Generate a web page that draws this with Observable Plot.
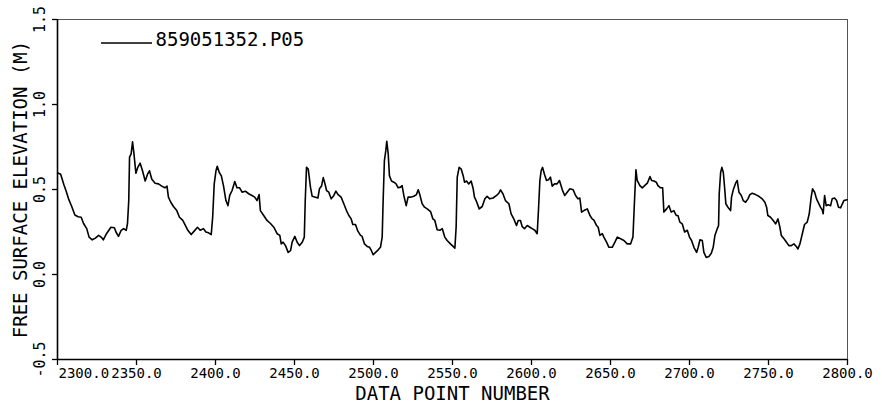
<!DOCTYPE html>
<html>
<head>
<meta charset="utf-8">
<script src="https://cdn.jsdelivr.net/npm/d3@7"></script>
<script src="https://cdn.jsdelivr.net/npm/@observablehq/plot@0.6"></script>
<style>
  html, body { margin: 0; padding: 0; background: #fff; }
</style>
</head>
<body>
<div id="chart"></div>
<script>
const seriesName = "859051352.P05";
const xLabel = "DATA POINT NUMBER";
const yLabel = "FREE SURFACE ELEVATION (M)";
const xTicks = [2300, 2350, 2400, 2450, 2500, 2550, 2600, 2650, 2700, 2750, 2800];
const yTicks = [-0.5, 0.0, 0.5, 1.0, 1.5];

const pointNumber = [
  2300.6, 2302, 2304, 2305.5, 2307, 2309, 2311, 2313, 2315, 2316.5, 2318.5, 2320, 2322, 2324, 2326, 2327.6, 2329, 2331, 2333.8, 2336,
  2337, 2338.6, 2340.3, 2341.8, 2343.5, 2344.3, 2345.1, 2345.6, 2346.6, 2347.5, 2348.4, 2349.6, 2350.8, 2352.3, 2353.8, 2355.5, 2357, 2358.2, 2359.7, 2361.8,
  2363.9, 2366, 2368, 2369.3, 2370.2, 2371.7, 2373.4, 2375.5, 2377.2, 2379.3, 2381, 2382.5, 2384.6, 2386.5, 2388.6, 2390.3, 2392.4, 2393.9, 2395.6, 2397.3,
  2398.2, 2399.2, 2400.3, 2401.1, 2402.4, 2403.7, 2405.1, 2406.6, 2407.9, 2409, 2410.5, 2412.2, 2413.6, 2415.3, 2416.8, 2418.9, 2421, 2423.1, 2424.8, 2426.3,
  2427.6, 2428.4, 2430.5, 2432.6, 2434.8, 2436.9, 2439, 2440.7, 2441.6, 2442.8, 2444.3, 2446, 2447.5, 2448.5, 2450.2, 2451.7, 2453.2, 2454.9, 2456.2, 2456.8,
  2457.6, 2458.7, 2460.1, 2461.2, 2463.3, 2464.8, 2465.8, 2467.1, 2468.2, 2469.2, 2470.3, 2471.7, 2473.2, 2474.9, 2476.2, 2477.6, 2479.5, 2481.2, 2482.9, 2484.4,
  2485.9, 2486.9, 2488.6, 2490.1, 2491.8, 2492.8, 2494.3, 2496, 2497.5, 2498.7, 2499.8, 2501.3, 2503, 2504.4, 2505.5, 2506.1, 2506.9, 2507.8, 2508.4, 2509.3,
  2510.1, 2511.4, 2512.9, 2514.3, 2515.6, 2517.1, 2518.1, 2519.2, 2520.7, 2521.9, 2523.4, 2525.5, 2527.2, 2528.3, 2529.3, 2530.8, 2532.3, 2534, 2536.1, 2537.6,
  2538.8, 2540.3, 2542, 2543.5, 2545.1, 2546.6, 2548.7, 2550.4, 2551.5, 2552.3, 2553, 2554.2, 2555.5, 2556.8, 2557.6, 2558.9, 2560.3, 2561.8, 2563.1, 2563.9,
  2565.2, 2566.9, 2568.8, 2570.5, 2571.9, 2573.6, 2575.7, 2577.9, 2579.3, 2580.4, 2581.9, 2583.5, 2585.7, 2587.1, 2588.8, 2590.5, 2591.6, 2593, 2594.1, 2595.6,
  2597.3, 2599, 2600.4, 2602.1, 2603.6, 2604.4, 2605.3, 2606.1, 2607, 2608.2, 2609.5, 2610.8, 2612, 2613.1, 2614.6, 2616.2, 2617.7, 2619.5, 2621, 2622.6,
  2624.3, 2626.4, 2627.9, 2629.4, 2630.6, 2631.7, 2633.2, 2635.3, 2637, 2638.4, 2639.5, 2641.2, 2642.2, 2643.3, 2644.8, 2645.8, 2647.5, 2649, 2651.1, 2652.8,
  2654.3, 2656.4, 2658.5, 2660.6, 2662.7, 2664.2, 2665.2, 2666.1, 2666.9, 2668.6, 2670.1, 2671.6, 2673.3, 2675, 2676, 2677.5, 2679, 2680, 2681.7, 2683,
  2683.8, 2685.5, 2687, 2688.4, 2690.1, 2691.6, 2692.7, 2693.9, 2695.4, 2696.9, 2698.6, 2700, 2701.3, 2702.8, 2704.5, 2705.5, 2706.6, 2708.1, 2709.1, 2710.6,
  2712.3, 2713.8, 2715, 2716.1, 2717.6, 2718.4, 2718.8, 2719.7, 2720.5, 2721.4, 2722.2, 2723, 2724.3, 2726, 2726.6, 2727.7, 2729.2, 2730.2, 2731.3, 2732.8,
  2734, 2735.5, 2737, 2738.2, 2739.7, 2741.8, 2743.9, 2746, 2747.7, 2748.8, 2749.6, 2751.3, 2753, 2754.5, 2756, 2757.2, 2758.1, 2759.8, 2761.4, 2762.9,
  2764.4, 2766.1, 2767.6, 2768.6, 2769.9, 2771.4, 2772.8, 2774.5, 2775.8, 2777, 2777.9, 2779.2, 2780.4, 2781.9, 2782.9, 2784, 2784.6, 2785.5, 2786.5, 2787.8,
  2789.3, 2790.3, 2791.8, 2793.1, 2794.3, 2795.6, 2797.7, 2799.8
];

const elevation = [
  0.596, 0.59, 0.53, 0.49, 0.445, 0.40, 0.35, 0.34, 0.337, 0.30, 0.27, 0.22, 0.204, 0.214, 0.23, 0.22, 0.204, 0.24, 0.278, 0.275,
  0.25, 0.224, 0.26, 0.27, 0.26, 0.30, 0.435, 0.69, 0.71, 0.78, 0.71, 0.596, 0.63, 0.655, 0.61, 0.55, 0.59, 0.61, 0.56, 0.537,
  0.533, 0.52, 0.51, 0.52, 0.455, 0.425, 0.40, 0.376, 0.337, 0.318, 0.288, 0.26, 0.235, 0.255, 0.278, 0.26, 0.27, 0.25, 0.245, 0.235,
  0.337, 0.533, 0.61, 0.637, 0.60, 0.58, 0.52, 0.435, 0.405, 0.465, 0.494, 0.547, 0.51, 0.51, 0.484, 0.49, 0.475, 0.465, 0.455, 0.435,
  0.47, 0.376, 0.347, 0.318, 0.30, 0.278, 0.24, 0.23, 0.18, 0.19, 0.17, 0.13, 0.14, 0.19, 0.224, 0.19, 0.17, 0.19, 0.22, 0.435,
  0.63, 0.62, 0.514, 0.46, 0.455, 0.45, 0.504, 0.52, 0.57, 0.537, 0.494, 0.484, 0.445, 0.465, 0.49, 0.47, 0.455, 0.416, 0.376, 0.347,
  0.327, 0.294, 0.294, 0.255, 0.23, 0.224, 0.18, 0.165, 0.16, 0.14, 0.116, 0.13, 0.145, 0.16, 0.22, 0.435, 0.67, 0.73, 0.784, 0.71,
  0.58, 0.55, 0.543, 0.533, 0.51, 0.514, 0.523, 0.465, 0.405, 0.455, 0.455, 0.46, 0.47, 0.498, 0.47, 0.416, 0.396, 0.386, 0.37, 0.327,
  0.318, 0.263, 0.26, 0.27, 0.22, 0.2, 0.18, 0.165, 0.155, 0.278, 0.573, 0.63, 0.62, 0.58, 0.543, 0.55, 0.533, 0.55, 0.504, 0.455,
  0.43, 0.386, 0.4, 0.445, 0.46, 0.445, 0.45, 0.465, 0.478, 0.498, 0.475, 0.435, 0.416, 0.357, 0.327, 0.288, 0.318, 0.318, 0.282, 0.27,
  0.288, 0.278, 0.27, 0.26, 0.24, 0.376, 0.553, 0.61, 0.63, 0.59, 0.553, 0.557, 0.573, 0.52, 0.533, 0.533, 0.553, 0.498, 0.465, 0.484,
  0.504, 0.498, 0.465, 0.445, 0.45, 0.367, 0.376, 0.386, 0.347, 0.327, 0.32, 0.288, 0.278, 0.23, 0.24, 0.22, 0.19, 0.16, 0.16, 0.19,
  0.22, 0.21, 0.2, 0.18, 0.18, 0.22, 0.435, 0.616, 0.553, 0.523, 0.51, 0.523, 0.537, 0.576, 0.553, 0.55, 0.543, 0.523, 0.51, 0.51,
  0.367, 0.386, 0.405, 0.367, 0.376, 0.347, 0.347, 0.308, 0.298, 0.25, 0.26, 0.22, 0.2, 0.16, 0.13, 0.16, 0.204, 0.2, 0.13, 0.1,
  0.106, 0.125, 0.16, 0.23, 0.27, 0.288, 0.475, 0.6, 0.63, 0.6, 0.514, 0.416, 0.396, 0.376, 0.455, 0.498, 0.537, 0.553, 0.484, 0.465,
  0.435, 0.425, 0.445, 0.47, 0.478, 0.47, 0.46, 0.445, 0.425, 0.396, 0.347, 0.337, 0.318, 0.298, 0.327, 0.278, 0.23, 0.21, 0.19, 0.17,
  0.17, 0.18, 0.165, 0.15, 0.18, 0.24, 0.294, 0.308, 0.357, 0.455, 0.504, 0.484, 0.445, 0.416, 0.396, 0.38, 0.357, 0.465, 0.405, 0.41,
  0.405, 0.445, 0.45, 0.435, 0.396, 0.392, 0.435, 0.44
];

const data = pointNumber.map((n, i) => ({n, v: elevation[i]}));
const font = "'DejaVu Sans Mono', monospace";

const legendLine = (index, scales, values, dim) => {
  const g = d3.create("svg:g");
  g.append("line")
    .attr("x1", dim.marginLeft + 44).attr("x2", dim.marginLeft + 95)
    .attr("y1", dim.marginTop + 24).attr("y2", dim.marginTop + 24)
    .attr("stroke", "black").attr("stroke-width", 1.3);
  return g.node();
};

const chart = Plot.plot({
  width: 882,
  height: 412,
  marginLeft: 57,
  marginRight: 35,
  marginTop: 19,
  marginBottom: 53,
  style: {fontFamily: font, background: "#fff", color: "#000"},
  x: {domain: [2300, 2800]},
  y: {domain: [-0.5, 1.5]},
  marks: [
    Plot.frame({stroke: "#555", strokeWidth: 1}),
    Plot.axisX({ticks: xTicks, tickSize: 6, tickPadding: 3, fontSize: 14, label: null,
      tickFormat: d => d === xTicks[0] ? "" : d.toFixed(1), strokeWidth: 1.3}),
    Plot.text([xTicks[0]], {x: d => d, frameAnchor: "bottom", text: d => d.toFixed(1),
      textAnchor: "start", lineAnchor: "top", dy: 9, dx: 1, fontSize: 14}),
    Plot.axisY({ticks: yTicks, tickSize: 5, tickFormat: () => "", label: null, strokeWidth: 1.3}),
    Plot.text(yTicks, {y: d => d, frameAnchor: "left", text: d => d.toFixed(1), rotate: -90,
      textAnchor: "middle", lineAnchor: "middle", dx: -17, fontSize: 15}),
    Plot.ruleX([2300], {stroke: "#000", strokeWidth: 1.6}),
    Plot.ruleY([-0.5], {stroke: "#000", strokeWidth: 1.6}),
    Plot.text([yLabel], {frameAnchor: "left", rotate: -90, dx: -37, textAnchor: "middle",
      lineAnchor: "middle", fontSize: 19}),
    Plot.text([xLabel], {frameAnchor: "bottom", dy: 34, lineAnchor: "middle", fontSize: 19}),
    Plot.line(data, {x: "n", y: "v", stroke: "#000", strokeWidth: 1.6}),
    legendLine,
    Plot.text([seriesName], {frameAnchor: "top-left", dx: 98, dy: 20, textAnchor: "start",
      lineAnchor: "middle", fontSize: 19})
  ]
});
document.getElementById("chart").append(chart);
</script>
</body>
</html>
